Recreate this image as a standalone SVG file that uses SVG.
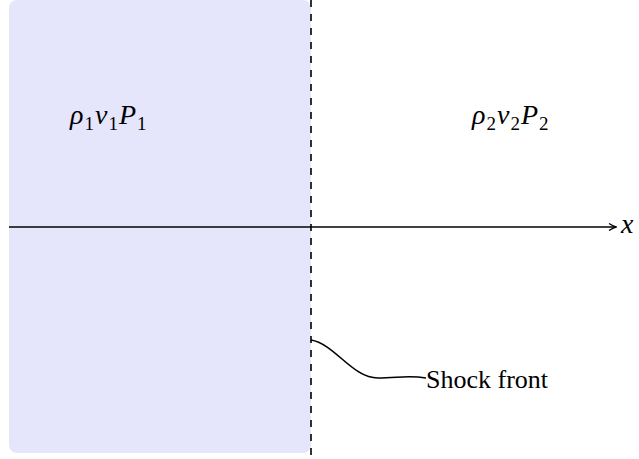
<svg xmlns="http://www.w3.org/2000/svg" width="639" height="459" viewBox="0 0 639 459">
<defs>
<style>
.math{font-family:'Liberation Serif','Times New Roman','DejaVu Serif',serif;font-style:italic;font-size:28px;fill:#000}
.lbl{letter-spacing:1px}
.sub{font-style:normal;font-size:19px}
.txt{font-family:'Liberation Serif','Times New Roman','DejaVu Serif',serif;font-size:26px;fill:#000}
.ln{stroke:#000;stroke-width:1.6;fill:none}
</style>
<marker id="arr" viewBox="0 0 10 10" refX="9" refY="5" markerWidth="10" markerHeight="10" markerUnits="userSpaceOnUse" orient="auto">
<path d="M2,1.5 Q6,4 9,5 Q6,6 2,8.5" fill="none" stroke="#000" stroke-width="1.4"/>
</marker>
</defs>
<rect width="639" height="459" fill="#fff"/>
<g id="region1">
<rect x="9" y="0" width="302" height="453" rx="8" fill="#e5e5fc"/>
<text class="math lbl" x="70" y="124" font-family="Liberation Serif, serif">ρ<tspan class="sub" dy="6">1</tspan><tspan dy="-6">v</tspan><tspan class="sub" dy="6">1</tspan><tspan dy="-6">P</tspan><tspan class="sub" dy="6">1</tspan></text>
</g>
<g id="region2">
<text class="math lbl" x="472" y="124" font-family="Liberation Serif, serif">ρ<tspan class="sub" dy="6">2</tspan><tspan dy="-6">v</tspan><tspan class="sub" dy="6">2</tspan><tspan dy="-6">P</tspan><tspan class="sub" dy="6">2</tspan></text>
</g>
<g id="connectors">
<line class="ln" x1="9" y1="227" x2="616" y2="227" marker-end="url(#arr)"/>
<line class="ln" x1="311" y1="0" x2="311" y2="459" stroke-dasharray="7 7"/>
<path class="ln" d="M311,340 C335,344 352,378 378,378 C398,378 408,375 426,378"/>
</g>
<g id="axis-label">
<text class="math" x="621" y="233" font-family="Liberation Serif, serif">x</text>
</g>
<g id="shock-label">
<text class="txt" x="426" y="388" font-family="Liberation Serif, serif">Shock front</text>
</g>
</svg>
